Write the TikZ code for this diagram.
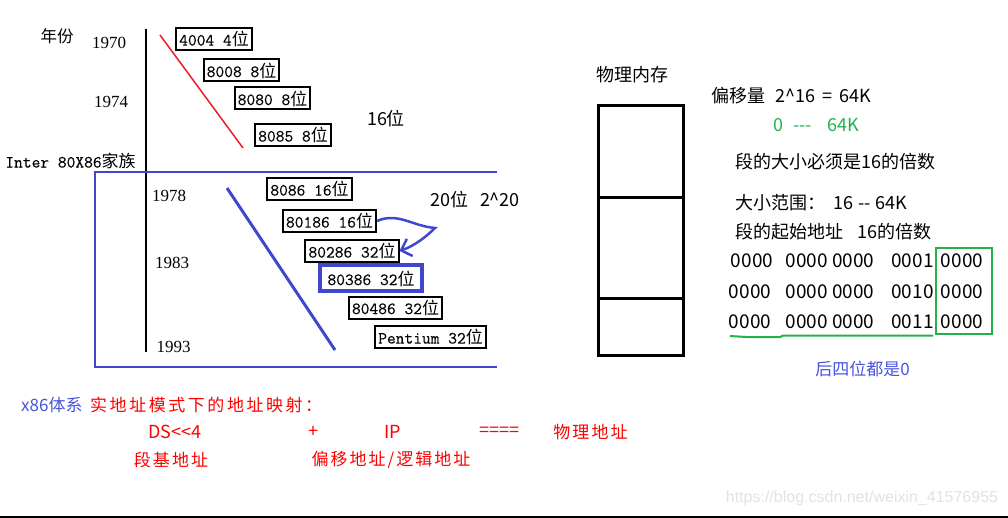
\documentclass[tikz,border=0pt]{standalone}
\usepackage{fontspec}
\setmainfont{Liberation Serif}
\setmonofont{Latin Modern Mono}[FakeBold=0.3]
\newfontfamily\cjk{Noto Sans CJK SC}
\newfontfamily\cjkwide{Noto Sans CJK SC}[LetterSpace=15]
\newfontfamily\cjkspread{Noto Sans CJK SC}[LetterSpace=12]
\newfontfamily\marksans{Liberation Sans}
\usetikzlibrary{positioning,arrows.meta}

\definecolor{paintblue}{RGB}{63,72,204}
\definecolor{paintgreen}{RGB}{34,177,76}
\definecolor{linered}{RGB}{237,28,36}
\definecolor{noteblue}{RGB}{72,84,218}
\definecolor{marklight}{RGB}{226,226,226}

\newcommand{\wei}{{\cjk 位}}

\begin{document}
\begin{tikzpicture}[x=1pt, y=-1pt, node distance=30.5pt,
    chip/.style={draw, line width=2pt, font=\ttfamily\fontsize{17}{17}\selectfont, inner xsep=3pt, inner ysep=0pt, minimum height=22pt},
    year/.style={font=\fontsize{17}{17}\selectfont, inner sep=0pt},
    note/.style={anchor=west, inner sep=0pt, font=\cjk\fontsize{18}{18}\selectfont},
    bits/.style={inner sep=0pt, font=\cjk\fontsize{19}{19}\selectfont},
    formula/.style={inner sep=0pt, text=red, font=\cjk\fontsize{18}{18}\selectfont},
    redword/.style={inner sep=0pt, text=red, font=\cjkspread\fontsize{17}{17}\selectfont}]

	\useasboundingbox (0,0) rectangle (1008,518);

	% time axis
	\node[inner sep=0pt, font=\cjk\fontsize{16.5}{16.5}\selectfont] (yearhead) at (57,36) {年份};
	\node[year] (y1970) at (109,43) {1970};
	\node[year] (y1974) at (111,102) {1974};
	\node[inner sep=0pt, font=\ttfamily\fontsize{17}{17}\selectfont] (family) at (70.5,161) {Inter 80X86{\cjk 家族}};
	\node[year] (y1978) at (169,196) {1978};
	\node[year] (y1983) at (172,263) {1983};
	\node[year] (y1993) at (173.5,347) {1993};
	\draw[line width=2pt] (146,29) -- (146,352);

	\node[chip] (c4004) at (214,39) {4004 4\wei};
	\node[chip] (c8008) at (241.5,70.5) {8008 8\wei};
	\node[chip] (c8080) at (272.5,98.5) {8080 8\wei};
	\node[chip] (c8085) at (293,135) {8085 8\wei};
	\draw[linered, line width=1.5pt] (160,35) -- (243,148);
	\node[note, anchor=center] (w16) at (386,119) {16位};

	\draw[paintblue, line width=1.5pt] (497,172) -- (95,172) -- (95,367) -- (497,367);
	\node[chip] (c8086) at (309.5,189) {8086 16\wei};
	\node[chip] (c80186) at (329.5,221) {80186 16\wei};
	\node[chip] (c80286) at (352,251) {80286 32\wei};
	\node[chip, draw=paintblue, line width=4pt, inner xsep=7pt, minimum height=26pt] (c80386) at (371,278.5) {80386 32\wei};
	\node[chip] (c80486) at (395.5,307.5) {80486 32\wei};
	\node[chip] (cpent) at (430.5,337) {Pentium 32\wei};
	\draw[paintblue, line width=3pt] (227,188) -- (335,350);
	\node[note, anchor=center] (w20) at (475,200) {20位\hspace{12pt}2\textasciicircum20};
	\draw[paintblue, line width=2.5pt, -{Straight Barb[length=9pt, width=18pt]}]
		(c80186.east) .. controls (398,212) and (412,226) .. (435,228)
		.. controls (426,237) and (414,246) .. (c80286.east);

	% memory
	\node[note, anchor=center] (memhead) at (632.5,75) {物理内存};
	\draw[line width=3pt] (598,106) rectangle (683,355);
	\draw[line width=3pt] (598,198) -- (683,198);
	\draw[line width=3pt] (598,298) -- (683,298);

	\node[note] (offset) at (711,96) {偏移量\hspace{10pt}2\textasciicircum16\hspace{7pt}=\hspace{7pt}64K};
	\node[note, text=paintgreen] (range) at (773,125) {0\hspace{10pt}-\kern0pt-\kern0pt-\hspace{16pt}64K};
	\node[note] (size) at (735,162) {段的大小必须是16的倍数};
	\node[note] (span) at (735,203) {大小范围：\hspace{8pt}16\hspace{5pt}-\kern0pt-\hspace{5pt}64K};
	\node[note] (start) at (735,232) {段的起始地址\hspace{14pt}16的倍数};

	\node[bits] (r1a) at (752,261) {0000};
	\node[bits] (r1b) [right of=r1a, node distance=78pt] {0000 0000};
	\node[bits] (r1c) [right of=r1b, node distance=82.5pt] {0001};
	\node[bits] (r1d) [right of=r1c, node distance=49.5pt] {0000};
	\node[bits] (r2a) [below of=r1a, xshift=-2pt] {0000};
	\node[bits] (r2b) [below of=r1b] {0000 0000};
	\node[bits] (r2c) [below of=r1c] {0010};
	\node[bits] (r2d) [below of=r1d] {0000};
	\node[bits] (r3a) [below of=r2a] {0000};
	\node[bits] (r3b) [below of=r2b] {0000 0000};
	\node[bits] (r3c) [below of=r2c] {0011};
	\node[bits] (r3d) [below of=r2d] {0000};
	\draw[paintgreen, line width=2pt] (936,248) rectangle (992,334);
	\draw[paintgreen, line width=2pt] (730,336) -- (746,337) -- (780,337) -- (783,335.5) -- (933,335.5);
	\node[note, anchor=center, text=noteblue, font=\cjk\fontsize{17}{17}\selectfont] (tail) at (862.5,369) {后四位都是0};

	% address mapping
	\node[note, text=noteblue, font=\cjk\fontsize{17}{17}\selectfont] (sys) at (21,405) {x86体系};
	\node[note, text=red, font=\cjkwide\fontsize{17}{17}\selectfont] (title) at (90,405) {实地址模式下的地址映射：};
	\node[formula] (ds) at (175,432) {DS<\kern0pt<4};
	\node[formula] (plus) at (313,432) {+};
	\node[formula] (ip) at (392.5,432) {IP};
	\node[formula] (eq) at (499.5,432) {====};
	\node[redword] (phys) at (590.5,432) {物理地址};
	\node[redword] (base) at (171,460) {段基地址};
	\node[redword] (logic) at (391,460) {偏移地址/逻辑地址};

	\node[inner sep=0pt, text=marklight, font=\marksans\fontsize{16}{16}\selectfont] (mark) at (862,498) {https://blog.csdn.net/weixin\_41576955};
	\draw[line width=2pt] (0,517) -- (1008,517);

\end{tikzpicture}
\end{document}
